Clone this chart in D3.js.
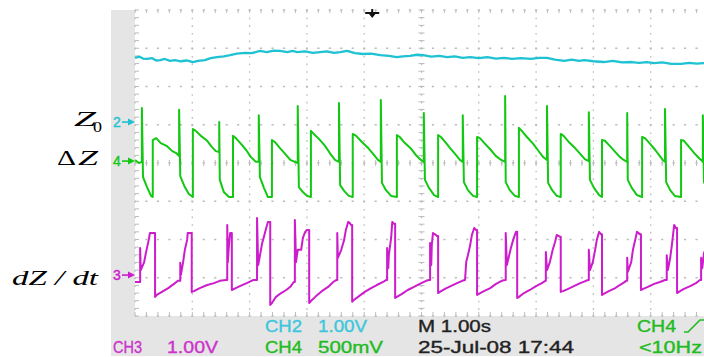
<!DOCTYPE html>
<html>
<head>
<meta charset="utf-8">
<script src="https://cdn.jsdelivr.net/npm/d3@7"></script>
<style>
  html, body { margin: 0; padding: 0; background: #fff; }
  svg { display: block; }
</style>
</head>
<body>
<svg id="scope" width="704" height="357"></svg>
<script>
// traces: [time in s, level in screen divisions from centre]
const ch2Trace = [[0,2.75],[0.08,2.78],[0.14,2.73],[0.21,2.72],[0.30,2.74],[0.37,2.68],[0.44,2.69],[0.52,2.72],[0.61,2.67],[0.70,2.69],[0.80,2.66],[0.90,2.68],[1.01,2.64],[1.10,2.67],[1.22,2.69],[1.32,2.74],[1.43,2.77],[1.55,2.79],[1.66,2.82],[1.78,2.86],[1.92,2.88],[2.04,2.87],[2.18,2.93],[2.30,2.90],[2.42,2.94],[2.53,2.93],[2.66,2.90],[2.75,2.93],[2.83,2.90],[2.97,2.92],[3.10,2.88],[3.23,2.90],[3.35,2.92],[3.47,2.88],[3.58,2.90],[3.70,2.93],[3.84,2.87],[3.98,2.85],[4.12,2.86],[4.28,2.82],[4.43,2.80],[4.57,2.77],[4.68,2.79],[4.80,2.80],[4.92,2.83],[5.03,2.82],[5.17,2.78],[5.31,2.80],[5.45,2.77],[5.58,2.79],[5.72,2.75],[5.85,2.77],[6.00,2.74],[6.15,2.77],[6.30,2.73],[6.44,2.75],[6.58,2.72],[6.74,2.74],[6.91,2.72],[7.05,2.75],[7.19,2.75],[7.33,2.70],[7.49,2.67],[7.62,2.70],[7.75,2.67],[7.84,2.69],[8.00,2.66],[8.18,2.64],[8.34,2.67],[8.50,2.63],[8.66,2.64],[8.80,2.62],[8.93,2.64],[9.06,2.61],[9.20,2.63],[9.36,2.59],[9.53,2.59],[9.67,2.62],[9.80,2.60],[9.93,2.61],[10,2.61]];

const ch4Trace = [
  [0,0.08],[0.07,0.00],[0.12,0.03],[0.12,1.44],[0.14,-0.37],[0.21,-0.63],[0.28,-0.86],[0.31,-0.89],
  [0.31,0.60],[0.37,0.65],[0.45,0.52],[0.56,0.44],[0.65,0.31],[0.72,0.26],[0.77,0.18],[0.77,1.39],[0.79,-0.34],[0.86,-0.60],[0.94,-0.81],[1.01,-0.89],
  [1.01,0.89],[1.06,0.84],[1.15,0.71],[1.26,0.58],[1.34,0.42],[1.41,0.31],[1.47,0.29],[1.47,1.07],[1.48,-0.44],[1.55,-0.76],[1.64,-0.89],[1.71,-0.89],
  [1.71,0.71],[1.76,0.65],[1.85,0.50],[1.94,0.34],[2.02,0.16],[2.11,0.03],[2.16,0.03],[2.16,1.25],[2.18,-0.37],[2.25,-0.65],[2.32,-0.89],[2.39,-0.89],
  [2.39,0.60],[2.44,0.55],[2.53,0.39],[2.62,0.24],[2.71,0.08],[2.79,0.03],[2.84,0.00],[2.84,1.49],[2.86,-0.63],[2.93,-0.76],[3.00,-0.86],[3.07,-0.89],
  [3.07,0.84],[3.12,0.76],[3.21,0.63],[3.32,0.44],[3.40,0.26],[3.49,0.08],[3.56,0.03],[3.56,1.57],[3.58,-0.58],[3.65,-0.73],[3.73,-0.86],[3.80,-0.89],
  [3.80,0.76],[3.86,0.71],[3.96,0.55],[4.07,0.39],[4.17,0.21],[4.24,0.08],[4.29,0.03],[4.29,1.65],[4.31,-0.52],[4.38,-0.71],[4.47,-0.86],[4.57,-0.89],
  [4.57,0.73],[4.62,0.68],[4.71,0.52],[4.82,0.37],[4.90,0.21],[4.99,0.08],[5.04,0.03],[5.04,1.31],[5.06,-0.44],[5.13,-0.65],[5.22,-0.84],[5.29,-0.89],
  [5.29,0.73],[5.34,0.68],[5.43,0.52],[5.51,0.37],[5.60,0.21],[5.67,0.08],[5.72,0.03],[5.72,1.25],[5.74,-0.50],[5.81,-0.71],[5.90,-0.86],[5.97,-0.89],
  [5.97,0.68],[6.02,0.65],[6.11,0.50],[6.21,0.34],[6.30,0.18],[6.39,0.08],[6.46,0.03],[6.46,1.75],[6.47,-0.50],[6.54,-0.71],[6.63,-0.86],[6.70,-0.89],
  [6.70,0.92],[6.75,0.84],[6.84,0.68],[6.95,0.50],[7.03,0.34],[7.12,0.16],[7.19,0.08],[7.19,1.49],[7.21,-0.52],[7.28,-0.71],[7.36,-0.86],[7.43,-0.89],
  [7.43,0.76],[7.48,0.71],[7.57,0.55],[7.68,0.39],[7.77,0.24],[7.85,0.10],[7.92,0.05],[7.92,1.33],[7.94,-0.44],[8.01,-0.65],[8.10,-0.84],[8.15,-0.89],
  [8.15,0.60],[8.20,0.58],[8.29,0.44],[8.38,0.29],[8.46,0.16],[8.53,0.08],[8.59,0.03],[8.59,1.31],[8.60,-0.44],[8.67,-0.65],[8.76,-0.84],[8.85,-0.89],
  [8.85,0.68],[8.90,0.65],[8.99,0.50],[9.08,0.34],[9.16,0.18],[9.21,0.08],[9.25,0.03],[9.25,1.41],[9.27,-0.50],[9.34,-0.71],[9.42,-0.86],[9.53,-0.89],
  [9.53,0.60],[9.58,0.58],[9.67,0.42],[9.76,0.26],[9.84,0.13],[9.90,0.05],[9.91,0.03],[9.91,1.25],[9.93,-0.50],[10,-0.71]
];

const ch3Trace = [
  [0,-3.11],[0.07,-3.11],[0.09,-3.11],[0.09,-2.22],[0.10,-2.80],[0.16,-2.59],[0.19,-2.35],[0.24,-2.01],[0.26,-1.83],[0.31,-1.83],[0.35,-1.83],[0.35,-3.50],
  [0.38,-3.45],[0.47,-3.37],[0.58,-3.27],[0.68,-3.16],[0.75,-3.08],[0.79,-3.08],[0.79,-2.61],[0.80,-2.93],[0.84,-2.59],[0.87,-2.27],[0.91,-2.01],[0.92,-1.83],[0.98,-1.83],[0.99,-1.83],[0.99,-3.37],
  [1.03,-3.35],[1.13,-3.27],[1.26,-3.19],[1.38,-3.14],[1.48,-3.08],[1.59,-3.06],[1.61,-3.06],[1.61,-1.62],[1.62,-2.59],[1.64,-2.14],[1.66,-1.83],[1.68,-1.83],[1.69,-1.83],[1.69,-3.32],
  [1.73,-3.29],[1.83,-3.22],[1.95,-3.14],[2.06,-3.06],[2.11,-3.06],[2.13,-3.06],[2.13,-1.44],[2.15,-2.67],[2.22,-2.09],[2.25,-1.93],[2.29,-1.70],[2.32,-1.54],[2.34,-1.54],[2.36,-1.54],[2.36,-3.71],
  [2.39,-3.66],[2.46,-3.50],[2.55,-3.40],[2.64,-3.32],[2.72,-3.22],[2.77,-3.11],[2.79,-3.11],[2.79,-1.49],[2.81,-2.59],[2.84,-2.27],[2.90,-2.27],[2.93,-1.96],[2.97,-1.80],[3.00,-1.75],[3.02,-1.75],[3.04,-1.75],[3.04,-3.66],
  [3.07,-3.61],[3.16,-3.48],[3.26,-3.35],[3.37,-3.24],[3.46,-3.11],[3.51,-3.06],[3.53,-3.06],[3.53,-1.83],[3.54,-2.48],[3.60,-2.27],[3.65,-2.01],[3.68,-1.75],[3.72,-1.54],[3.75,-1.57],[3.77,-1.62],[3.79,-1.62],[3.79,-3.63],
  [3.82,-3.58],[3.91,-3.48],[4.01,-3.37],[4.12,-3.27],[4.22,-3.19],[4.33,-3.11],[4.38,-3.06],[4.40,-3.06],[4.40,-2.22],[4.42,-2.75],[4.43,-2.41],[4.47,-1.96],[4.49,-1.54],[4.52,-1.59],[4.54,-1.59],[4.54,-3.53],
  [4.57,-3.50],[4.66,-3.42],[4.76,-3.32],[4.87,-3.24],[4.97,-3.16],[5.08,-3.08],[5.13,-3.06],[5.15,-3.06],[5.15,-2.09],[5.17,-2.67],[5.18,-2.14],[5.20,-1.83],[5.25,-1.88],[5.27,-1.91],[5.29,-1.91],[5.29,-3.40],
  [5.32,-3.37],[5.41,-3.29],[5.51,-3.22],[5.62,-3.14],[5.71,-3.08],[5.76,-3.06],[5.78,-2.59],[5.81,-2.41],[5.85,-2.14],[5.88,-1.88],[5.92,-1.70],[5.95,-1.75],[5.97,-1.75],[5.97,-3.45],
  [6.00,-3.42],[6.09,-3.35],[6.20,-3.27],[6.30,-3.16],[6.40,-3.08],[6.46,-3.06],[6.47,-3.06],[6.47,-1.83],[6.49,-2.67],[6.53,-2.41],[6.56,-2.22],[6.60,-2.01],[6.63,-1.88],[6.65,-1.80],[6.67,-1.80],[6.67,-3.53],
  [6.70,-3.50],[6.79,-3.40],[6.89,-3.32],[7.00,-3.22],[7.10,-3.14],[7.16,-3.08],[7.17,-3.08],[7.17,-2.33],[7.19,-2.80],[7.24,-2.59],[7.29,-2.27],[7.33,-2.07],[7.36,-1.88],[7.42,-1.93],[7.43,-1.93],[7.43,-3.37],
  [7.47,-3.35],[7.56,-3.29],[7.66,-3.22],[7.77,-3.14],[7.87,-3.08],[7.91,-3.06],[7.92,-3.06],[7.92,-2.27],[7.94,-2.80],[7.99,-2.59],[8.03,-2.27],[8.06,-2.01],[8.10,-1.80],[8.13,-1.86],[8.15,-1.86],[8.15,-3.45],
  [8.18,-3.42],[8.27,-3.35],[8.38,-3.27],[8.46,-3.19],[8.55,-3.11],[8.57,-3.08],[8.59,-3.08],[8.59,-2.48],[8.60,-2.85],[8.66,-2.59],[8.69,-2.27],[8.73,-2.01],[8.76,-1.80],[8.81,-1.86],[8.83,-1.86],[8.83,-3.32],
  [8.87,-3.29],[8.95,-3.24],[9.06,-3.16],[9.16,-3.11],[9.25,-3.06],[9.27,-3.06],[9.28,-3.06],[9.28,-2.41],[9.30,-2.80],[9.34,-2.48],[9.37,-2.14],[9.39,-1.88],[9.41,-1.62],[9.44,-1.70],[9.46,-1.70],[9.46,-3.40],
  [9.49,-3.37],[9.58,-3.29],[9.69,-3.22],[9.79,-3.14],[9.86,-3.06],[9.88,-3.06],[9.88,-2.48],[9.90,-2.75],[9.93,-2.35],[10,-2.14]
];

const timeDivs = [0, 1, 2, 3, 4, 5, 6, 7, 8, 9, 10];
const levelDivs = [-4, -3, -2, -1, 0, 1, 2, 3, 4];
const triggerTime = 4.14;

const channels = ['CH2', 'CH4', 'CH3'];
const channelColors = ['#1ec2d2', '#12c812', '#cc1ccc'];
const channelTraces = [ch2Trace, ch4Trace, ch3Trace];
const markerDigits = ['2', '4', '3'];
const markerLevels = [1.07, 0.05, -2.93];

// status lines under the graticule
const statusText = ['CH2', '1.00V', 'M 1.00s', 'CH4', 'CH3', '1.00V', 'CH4', '500mV', '25-Jul-08 17:44', '<10Hz'];
const statusColor = ['#3cc6dc', '#3cc6dc', '#222', '#22bb22', '#cc33cc', '#cc33cc', '#22bb22', '#22bb22', '#222', '#22bb22'];
const statusX = [265, 318, 418, 637, 113, 167, 265, 318, 418, 639];
const statusRow = [0, 0, 0, 0, 1, 1, 1, 1, 1, 1];
const statusWidth = [37, 49, 73, 39, 29, 51, 37, 65, 156, 63];

const svg = d3.select('#scope');
const x = d3.scaleLinear().domain([0, 10]).range([135, 708]);
const y = d3.scaleLinear().domain([-4, 4]).range([316, 10]);

// bezel
svg.append('rect').attr('x', 111).attr('y', 10).attr('width', 600).attr('height', 346).attr('fill', '#e5e5e5');
svg.append('rect').attr('x', x(0)).attr('y', y(4)).attr('width', x(10) - x(0)).attr('height', y(-4) - y(4)).attr('fill', '#fff');

const grid = svg.append('g').attr('stroke', '#bcbcbc');
grid.selectAll('line.v').data(timeDivs).join('line')
  .attr('class', 'v')
  .attr('x1', d => x(d)).attr('x2', d => x(d))
  .attr('y1', y(4)).attr('y2', y(-4))
  .attr('stroke-width', 1.3)
  .attr('stroke-dasharray', '1.6,6.05');
grid.selectAll('line.h').data(levelDivs).join('line')
  .attr('class', 'h')
  .attr('x1', x(0)).attr('x2', x(10))
  .attr('y1', d => y(d)).attr('y2', d => y(d))
  .attr('stroke-width', 1.3)
  .attr('stroke-dasharray', '2.2,9.26')
  .attr('stroke-dashoffset', 1.1);

// minor ticks on the centre cross and the edges
const minorT = d3.range(0, 10.01, 0.2);
const minorL = d3.range(-4, 4.01, 0.2);
grid.selectAll('line.cx').data(minorL).join('line')
  .attr('x1', x(5) - 3).attr('x2', x(5) + 3)
  .attr('y1', d => y(d)).attr('y2', d => y(d));
grid.selectAll('line.cy').data(minorT).join('line')
  .attr('y1', y(0) - 3).attr('y2', y(0) + 3)
  .attr('x1', d => x(d)).attr('x2', d => x(d));
grid.selectAll('line.lx').data(minorL).join('line')
  .attr('x1', x(0)).attr('x2', x(0) + 4)
  .attr('y1', d => y(d)).attr('y2', d => y(d));
grid.selectAll('line.bx').data(minorT).join('line')
  .attr('y1', y(-4)).attr('y2', y(-4) - 4)
  .attr('x1', d => x(d)).attr('x2', d => x(d));
grid.selectAll('line.tx').data(minorT).join('line')
  .attr('y1', y(4)).attr('y2', y(4) + 3)
  .attr('x1', d => x(d)).attr('x2', d => x(d));

svg.append('clipPath').attr('id', 'plot')
  .append('rect').attr('x', x(0)).attr('y', y(4)).attr('width', x(10) - x(0)).attr('height', y(-4) - y(4));

const line = d3.line().x(d => x(d[0])).y(d => y(d[1]));
svg.append('g').attr('clip-path', 'url(#plot)')
  .selectAll('path').data(channelTraces).join('path')
  .attr('d', line)
  .attr('fill', 'none')
  .attr('stroke', (d, i) => channelColors[i])
  .attr('stroke-width', (d, i) => i === 0 ? 2.3 : 2)
  .attr('stroke-linejoin', 'round');

// trigger position
const tx = x(triggerTime);
svg.append('path')
  .attr('d', `M${tx - 7},13 L${tx + 7},13 M${tx},9 L${tx},13`)
  .attr('stroke', '#111').attr('stroke-width', 2);
svg.append('path')
  .attr('d', `M${tx - 4},13 L${tx + 4},13 L${tx},18 Z`)
  .attr('fill', '#111');

// channel ground markers
const mk = svg.append('g').selectAll('g').data(markerLevels).join('g')
  .attr('transform', d => `translate(0,${y(d)})`);
mk.append('text')
  .attr('x', 113).attr('y', 5)
  .attr('font-family', 'Liberation Sans, Arial, sans-serif')
  .attr('font-size', 14)
  .attr('fill', (d, i) => channelColors[i])
  .attr('stroke', (d, i) => channelColors[i]).attr('stroke-width', 0.4)
  .text((d, i) => markerDigits[i]);
mk.append('line')
  .attr('x1', 122).attr('x2', 131).attr('y1', 0).attr('y2', 0)
  .attr('stroke', (d, i) => channelColors[i]).attr('stroke-width', 1.6);
mk.append('path')
  .attr('d', 'M128,-3.5 L135,0 L128,3.5 Z')
  .attr('fill', (d, i) => channelColors[i]);

// signal names
const serif = 'Liberation Serif, Times New Roman, serif';
svg.append('text').attr('x', 74).attr('y', 126).attr('font-family', serif).attr('font-style', 'italic')
  .attr('font-size', 21).attr('textLength', 22).attr('lengthAdjust', 'spacingAndGlyphs').text('Z');
svg.append('text').attr('x', 93).attr('y', 132).attr('font-family', serif)
  .attr('font-size', 14).attr('textLength', 9).attr('lengthAdjust', 'spacingAndGlyphs').text('0');
svg.append('text').attr('x', 57).attr('y', 165).attr('font-family', serif)
  .attr('font-size', 21).attr('textLength', 19).attr('lengthAdjust', 'spacingAndGlyphs').text('Δ');
svg.append('text').attr('x', 78).attr('y', 165).attr('font-family', serif).attr('font-style', 'italic')
  .attr('font-size', 21).attr('textLength', 20).attr('lengthAdjust', 'spacingAndGlyphs').text('Z');
svg.append('text').attr('x', 12).attr('y', 285).attr('font-family', serif).attr('font-style', 'italic')
  .attr('font-size', 21).attr('textLength', 86).attr('lengthAdjust', 'spacingAndGlyphs').text('dZ / dt');

svg.append('g').selectAll('text').data(statusText).join('text')
  .attr('x', (d, i) => statusX[i])
  .attr('y', (d, i) => statusRow[i] ? 353 : 332)
  .attr('font-family', 'Liberation Sans, Arial, sans-serif')
  .attr('font-size', 16)
  .attr('textLength', (d, i) => statusWidth[i])
  .attr('lengthAdjust', 'spacingAndGlyphs')
  .attr('fill', (d, i) => statusColor[i])
  .attr('stroke', (d, i) => statusColor[i]).attr('stroke-width', 0.35)
  .text(d => d);

// rising-edge trigger symbol after CH4
svg.append('path')
  .attr('d', 'M684,332 L688,332 L700,320 L706,320')
  .attr('fill', 'none').attr('stroke', '#22bb22').attr('stroke-width', 1.6);
</script>
</body>
</html>
